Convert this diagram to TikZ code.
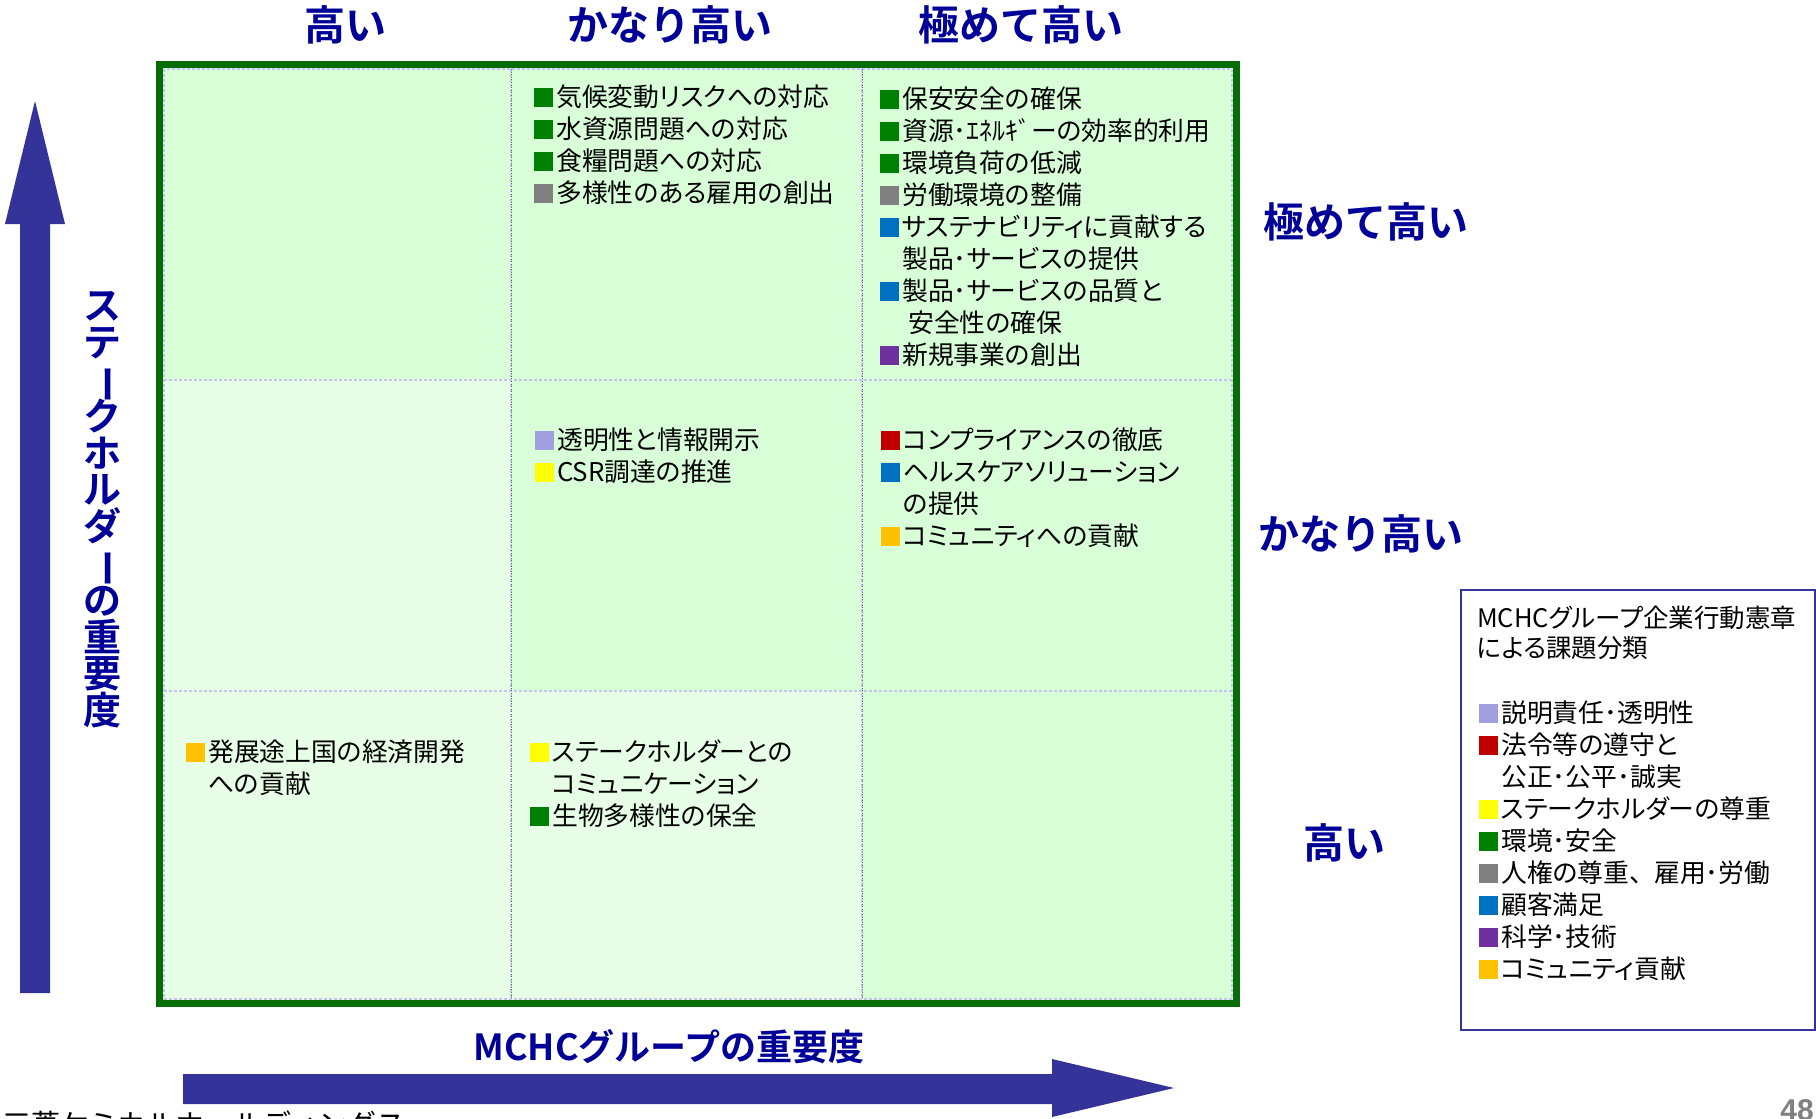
\documentclass[tikz,border=0pt]{standalone}
\usepackage{fontspec}
\usepackage{graphicx}
\setmainfont{Noto Sans CJK JP}[BoldFont={Noto Sans CJK JP Bold}]
\newfontfamily\bodyfont{Noto Sans CJK JP}[RawFeature=+palt]
\newfontfamily\arialf{Liberation Sans}
\definecolor{headblue}{RGB}{0,0,153}
\definecolor{arrowblue}{RGB}{51,51,153}
\definecolor{framegreen}{RGB}{6,108,6}
\definecolor{cdark}{RGB}{217,255,217}
\definecolor{clight}{RGB}{231,255,231}
\definecolor{lavline}{RGB}{196,196,238}
\definecolor{cgreen}{RGB}{0,128,0}
\definecolor{cgray}{RGB}{128,128,128}
\definecolor{cblue}{RGB}{0,112,192}
\definecolor{cpurple}{RGB}{112,48,160}
\definecolor{cred}{RGB}{192,0,0}
\definecolor{cyellow}{RGB}{255,255,0}
\definecolor{corange}{RGB}{255,192,0}
\definecolor{clav}{RGB}{160,160,224}
\definecolor{pagegray}{RGB}{128,128,128}
\newcommand{\sqr}[1]{{\color{#1}\rule{19pt}{19pt}}\hspace{3pt}}
\newcommand{\cont}{\hspace*{22pt}}
\newcommand{\fst}{\rule{0pt}{24pt}}
\newcommand{\vbar}{\rotatebox[origin=c]{-90}{ー}}
\tikzset{
  heading/.style={font=\fontsize{41}{41}\selectfont\bfseries, text=headblue, inner sep=0},
  cell/.style={anchor=north west, inner sep=0, align=left, font=\bodyfont\fontsize{25.8}{32}\selectfont},
  legtext/.style={anchor=north west, inner sep=0, align=left, font=\bodyfont\fontsize{25.5}{30}\selectfont},
  divline/.style={lavline, line width=1.4, densely dashed},
  bigarrow/.style={fill=arrowblue},
}
\begin{document}
\begin{tikzpicture}[x=1pt,y=-1pt]
\useasboundingbox (0,0) rectangle (1816,1119);
\fill[white] (0,0) rectangle (1816,1119);
% cells
\fill[cdark] (163,68) rectangle (1233,1000);
\fill[clight] (163,380) rectangle (511,1000);
\fill[clight] (511,691) rectangle (862,1000);
% dividers
\draw[divline] (164,69) rectangle (1232,999);
\draw[divline] (164,380) -- (1232,380);
\draw[divline] (164,691) -- (1232,691);
\draw[divline] (511,69) -- (511,999);
\draw[divline] (862,69) -- (862,999);
\draw[black!60, line width=0.6, dotted] (511,69) -- (511,999);
\draw[black!60, line width=0.6, dotted] (862,69) -- (862,999);
% frame
\draw[framegreen, line width=7] (159.5,64.5) rectangle (1236.5,1003.5);
% column headings
\node[heading] (colA) at (345,25) {高い};
\node[heading] (colB) at (670,25) {かなり高い};
\node[heading] (colC) at (1021,25) {極めて高い};
% row headings
\node[heading] (rowC) at (1366,222) {極めて高い};
\node[heading] (rowB) at (1361,534) {かなり高い};
\node[heading] (rowA) at (1344,843) {高い};
% arrows
\fill[bigarrow] (20,993) -- (20,224) -- (5,224) -- (35,101) -- (65,224) -- (50,224) -- (50,993) -- cycle;
\fill[bigarrow] (183,1074) -- (1052,1074) -- (1052,1059) -- (1174,1088) -- (1052,1117) -- (1052,1104) -- (183,1104) -- cycle;
% axis labels
\node[font={\fontsize{38}{36.8}\selectfont\bfseries\lineskiplimit=-100pt}, text=headblue, align=center, inner sep=0] (vlab) at (102,510)
  {ス\\テ\\\vbar\\ク\\ホ\\ル\\ダ\\\vbar\\の\\重\\要\\度};
\node[font=\fontsize{36}{36}\selectfont\bfseries, text=headblue, inner sep=0] (hlab) at (669,1047) {MCHCグループの重要度};
% cell contents
\node[cell] (cTM) at (534,82.5) {\fst\sqr{cgreen}気候変動リスクへの対応\\
\sqr{cgreen}水資源問題への対応\\
\sqr{cgreen}食糧問題への対応\\
\sqr{cgray}多様性のある雇用の創出};
\node[cell] (cTR) at (880,84.5) {\fst\sqr{cgreen}保安安全の確保\\
\sqr{cgreen}資源･ｴﾈﾙｷﾞーの効率的利用\\
\sqr{cgreen}環境負荷の低減\\
\sqr{cgray}労働環境の整備\\
\sqr{cblue}サステナビリティに貢献する\\
\cont 製品･サービスの提供\\
\sqr{cblue}製品･サービスの品質と\\
\hspace*{28pt}安全性の確保\\
\sqr{cpurple}新規事業の創出};
\node[cell] (cMM) at (535,425.5) {\fst\sqr{clav}透明性と情報開示\\
\sqr{cyellow}CSR調達の推進};
\node[cell] (cMR) at (881,425.5) {\fst\sqr{cred}コンプライアンスの徹底\\
\sqr{cblue}ヘルスケアソリューション\\
\cont の提供\\
\sqr{corange}コミュニティへの貢献};
\node[cell] (cBL) at (186,737.5) {\fst\sqr{corange}発展途上国の経済開発\\
\cont への貢献};
\node[cell] (cBM) at (530,737.5) {\fst\sqr{cyellow}ステークホルダーとの\\
\cont コミュニケーション\\
\sqr{cgreen}生物多様性の保全};
% legend
\draw[arrowblue, line width=1.5] (1461,590) rectangle (1815,1030);
\node[legtext] (legT) at (1477,603.5) {\fst MCHCグループ企業行動憲章\\による課題分類};
\node[cell] (legI) at (1479,698.5) {\fst\sqr{clav}説明責任･透明性\\
\sqr{cred}法令等の遵守と\\
\cont 公正･公平･誠実\\
\sqr{cyellow}ステークホルダーの尊重\\
\sqr{cgreen}環境･安全\\
\sqr{cgray}人権の尊重、\hspace{12pt}雇用･労働\\
\sqr{cblue}顧客満足\\
\sqr{cpurple}科学･技術\\
\sqr{corange}コミュニティ貢献};
% footer
\node[anchor=base west, inner sep=0, font=\fontsize{29}{29}\selectfont] (corp) at (2,1135) {三菱ケミカルホールディングス};
\node[anchor=base east, inner sep=0, font=\arialf\bfseries\fontsize{30}{30}\selectfont, text=pagegray] (pg) at (1814,1120) {48};
\end{tikzpicture}
\end{document}
